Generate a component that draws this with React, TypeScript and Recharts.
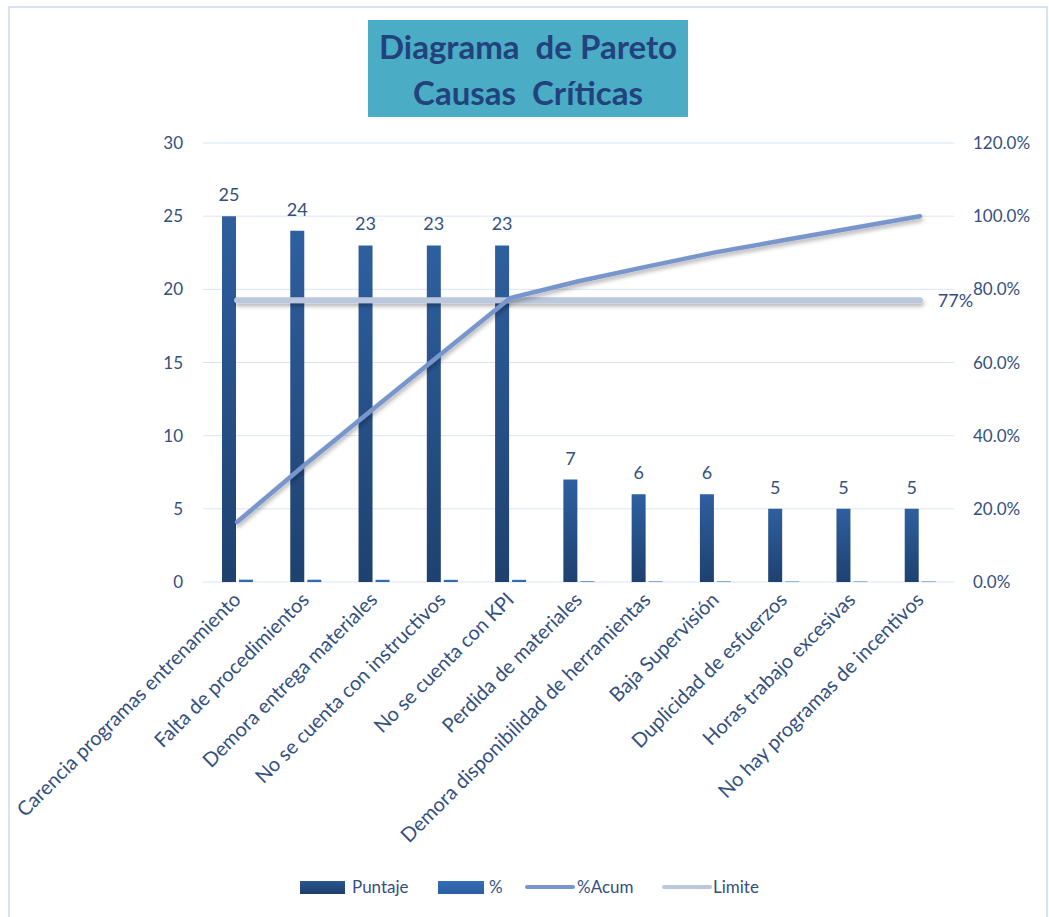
import React from 'react';
import {
  ComposedChart, Bar, Line, XAxis, YAxis, CartesianGrid, LabelList,
} from 'recharts';

const categories = [
  'Carencia programas entrenamiento',
  'Falta de procedimientos',
  'Demora entrega materiales',
  'No se cuenta con instructivos',
  'No se cuenta con KPI',
  'Perdida de materiales',
  'Demora disponibilidad de herramientas',
  'Baja Supervisión',
  'Duplicidad de esfuerzos',
  'Horas trabajo excesivas',
  'No hay programas de incentivos',
];
const puntaje = [25, 24, 23, 23, 23, 7, 6, 6, 5, 5, 5];
const pct = [0.164, 0.158, 0.151, 0.151, 0.151, 0.046, 0.039, 0.039, 0.033, 0.033, 0.033];
const pctAcum = [0.164, 0.322, 0.474, 0.625, 0.776, 0.822, 0.862, 0.901, 0.934, 0.967, 1.0];
const limite = [0.77, 0.77, 0.77, 0.77, 0.77, 0.77, 0.77, 0.77, 0.77, 0.77, 0.77];
const leftTicks = [0, 5, 10, 15, 20, 25, 30];
const rightTicks = [0, 0.2, 0.4, 0.6, 0.8, 1.0, 1.2];
const limiteLabel = '77%';

const data = categories.map((c, i) => ({
  cat: c,
  puntaje: puntaje[i],
  pct: pct[i],
  acum: pctAcum[i],
  limite: limite[i],
}));

const FONT = 'Lato, "Open Sans", sans-serif';
const TEXT = '#34507F';

const CatTick = (props: any) => {
  const { x, y, payload } = props;
  return (
    <g transform={`translate(${x + 5},${y + 11})`}>
      <text
        x={0}
        y={0}
        textAnchor="end"
        transform="rotate(-45)"
        fontSize={20}
        fontFamily={FONT}
        fill={TEXT}
      >
        {payload.value}
      </text>
    </g>
  );
};

const LimitLabel = (props: any) => {
  const { x, y, index } = props;
  if (index !== data.length - 1) return null;
  return (
    <text x={x + 18} y={y} dy="0.35em" fontSize={18} fontFamily={FONT} fill={TEXT}>
      {limiteLabel}
    </text>
  );
};

const legendText: React.CSSProperties = {
  position: 'absolute',
  top: 876,
  fontFamily: FONT,
  fontSize: 17,
  color: TEXT,
  lineHeight: '22px',
};

export default function App() {
  return (
    <div style={{ position: 'absolute', left: 0, top: 0, width: 1049, height: 917, overflow: 'hidden', background: '#fff' }}>
      <div style={{ position: 'absolute', left: 8, top: 6, width: 1036, height: 940, border: '2px solid #D6E3F4' }} />
      <div
        style={{
          position: 'absolute', left: 368, top: 20, width: 320, height: 97,
          background: '#4BACC6', color: '#22427C', fontFamily: FONT, fontWeight: 700,
          fontSize: 33, textAlign: 'center', lineHeight: '46px', paddingTop: 3, boxSizing: 'border-box',
          whiteSpace: 'nowrap',
        }}
      >
        <div>Diagrama&nbsp; de Pareto</div>
        <div>Causas&nbsp; Críticas</div>
      </div>
      <div style={{ position: 'absolute', left: 0, top: 0 }}>
        <ComposedChart
          width={1049}
          height={917}
          data={data}
          margin={{ top: 143, right: 15, left: 143, bottom: 0 }}
          barGap={3}
        >
          <defs>
            <linearGradient id="gPunt" x1="0" y1="0" x2="0" y2="1">
              <stop offset="0%" stopColor="#2E5F9F" />
              <stop offset="100%" stopColor="#1E416F" />
            </linearGradient>
            <linearGradient id="gPct" x1="0" y1="0" x2="0" y2="1">
              <stop offset="0%" stopColor="#3C74BC" />
              <stop offset="100%" stopColor="#2E62A8" />
            </linearGradient>
            <filter id="shadow" filterUnits="userSpaceOnUse" x="0" y="0" width="1049" height="917">
              <feDropShadow dx="1" dy="3" stdDeviation="2" floodColor="#000" floodOpacity="0.3" />
            </filter>
          </defs>
          <CartesianGrid vertical={false} stroke="#D9E4F3" yAxisId="left" />
          <XAxis
            dataKey="cat"
            height={335}
            interval={0}
            tick={<CatTick />}
            tickLine={false}
            axisLine={false}
          />
          <YAxis
            yAxisId="left"
            width={60}
            domain={[0, 30]}
            ticks={leftTicks}
            tickLine={false}
            axisLine={false}
            tickMargin={14}
            tick={{ fontSize: 17, fontFamily: FONT, fill: TEXT }}
          />
          <YAxis
            yAxisId="right"
            orientation="right"
            width={80}
            domain={[0, 1.2]}
            ticks={rightTicks}
            tickLine={false}
            axisLine={false}
            tickMargin={13}
            tickFormatter={(v: number) => `${(v * 100).toFixed(1)}%`}
            tick={{ fontSize: 17, fontFamily: FONT, fill: TEXT, textAnchor: 'start' }}
          />
          <Bar yAxisId="left" dataKey="puntaje" name="Puntaje" barSize={14} fill="url(#gPunt)" isAnimationActive={false}>
            <LabelList dataKey="puntaje" position="top" offset={15} fontSize={18} fontFamily={FONT} fill={TEXT} />
          </Bar>
          <Bar yAxisId="left" dataKey="pct" name="%" barSize={14} fill="url(#gPct)" isAnimationActive={false} />
          <Line
            yAxisId="right"
            dataKey="limite"
            name="Limite"
            stroke="#BAC7DC"
            strokeWidth={6}
            strokeLinecap="round"
            dot={false}
            activeDot={false}
            filter="url(#shadow)"
            isAnimationActive={false}
          >
            <LabelList dataKey="limite" content={<LimitLabel />} />
          </Line>
          <Line
            yAxisId="right"
            dataKey="acum"
            name="%Acum"
            stroke="#7895CC"
            strokeWidth={4.5}
            strokeLinecap="round"
            dot={false}
            activeDot={false}
            filter="url(#shadow)"
            isAnimationActive={false}
          />
        </ComposedChart>
      </div>
      <div style={{ position: 'absolute', left: 300, top: 881, width: 45, height: 13, background: 'linear-gradient(#2A5690, #1D3E6C)' }} />
      <div style={{ ...legendText, left: 352 }}>Puntaje</div>
      <div style={{ position: 'absolute', left: 438, top: 881, width: 46, height: 13, background: 'linear-gradient(#356CB4, #2B5EA2)' }} />
      <div style={{ ...legendText, left: 489 }}>%</div>
      <div style={{ position: 'absolute', left: 525, top: 885, width: 50, height: 4, borderRadius: 2, background: '#7895CC' }} />
      <div style={{ ...legendText, left: 577 }}>%Acum</div>
      <div style={{ position: 'absolute', left: 662, top: 885, width: 50, height: 4, borderRadius: 2, background: '#BAC7DC' }} />
      <div style={{ ...legendText, left: 713 }}>Limite</div>
    </div>
  );
}
